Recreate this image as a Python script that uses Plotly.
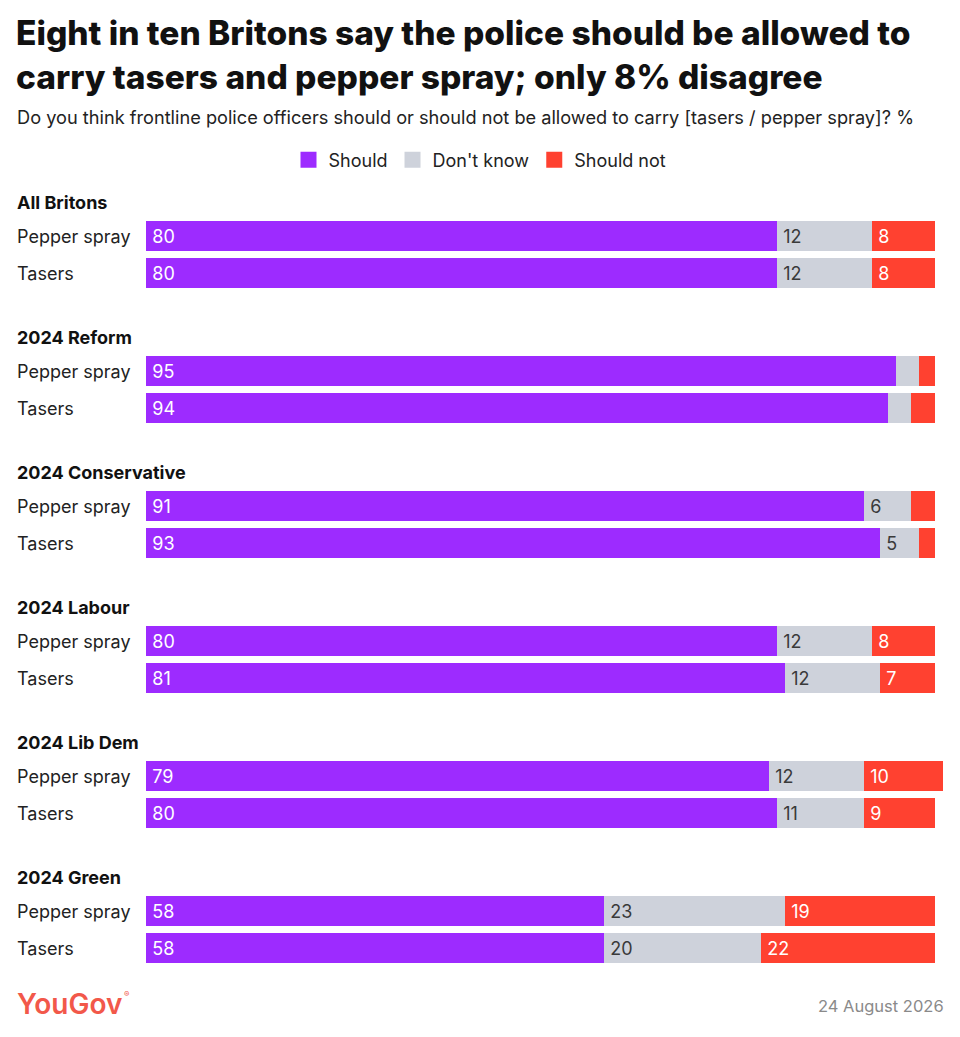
import plotly.graph_objects as go

groups = ["All Britons", "2024 Reform", "2024 Conservative", "2024 Labour", "2024 Lib Dem", "2024 Green"]
rows = ["Pepper spray", "Tasers"]
should = [80, 80, 95, 94, 91, 93, 80, 81, 79, 80, 58, 58]
dont_know = [12, 12, 3, 3, 6, 5, 12, 12, 12, 11, 23, 20]
should_not = [8, 8, 2, 3, 3, 2, 8, 7, 10, 9, 19, 22]

series = [("Should", should, "#9d2bff", "white"),
          ("Don't know", dont_know, "#ced2db", "#3a3a3a"),
          ("Should not", should_not, "#ff4130", "white")]

OFF = 8                      # page body margin
W, H = 960 - 2 * OFF, 1037 - 2 * OFF
# plot area in page pixels
PX_L, PX_T, PX_B = 146, 185, 975
PW = 801
PH = PX_B - PX_T
L = PX_L - OFF
T = PX_T - OFF
R = W - L - PW
B = H - T - PH
XMAX = 100 * PW / 789.0
FONT = "Inter, Roboto, sans-serif"

GROUP_STEP = 135
ROW_STEP = 37
FIRST_ROW = 236
ys = []
for g in range(len(groups)):
    for r in range(len(rows)):
        ys.append(FIRST_ROW + g * GROUP_STEP + r * ROW_STEP)

fig = go.Figure()
for name, vals, color, tcolor in series:
    fig.add_trace(go.Bar(
        name=name, x=vals, y=ys, orientation="h", width=30,
        marker=dict(color=color, line=dict(width=0)),
        text=["\u2009" + str(v) if v >= 5 else "" for v in vals],
        textposition="inside", insidetextanchor="start", textangle=0,
        constraintext="none",
        textfont=dict(family=FONT, size=18, color=tcolor),
        hoverinfo="skip", showlegend=False,
    ))
# legend entries with larger square swatches
for name, vals, color, tcolor in series:
    fig.add_trace(go.Scatter(
        name=name, x=[None], y=[None], mode="markers",
        marker=dict(symbol="square", size=20, color=color),
        showlegend=True, hoverinfo="skip",
    ))

def px_x(px):
    return (px - PX_L) / PW

def px_y(py):
    return (PX_B - py) / PH

annotations = []
for g, gname in enumerate(groups):
    annotations.append(dict(
        x=px_x(15), xref="paper", y=FIRST_ROW + g * GROUP_STEP - 34, yref="y",
        text=gname, showarrow=False, xanchor="left", yanchor="middle",
        font=dict(family=FONT, size=18, color="#111", weight=700)))
    for r, rname in enumerate(rows):
        annotations.append(dict(
            x=px_x(15), xref="paper", y=FIRST_ROW + g * GROUP_STEP + r * ROW_STEP, yref="y",
            text=rname, showarrow=False, xanchor="left", yanchor="middle",
            font=dict(family=FONT, size=18, color="#222")))

annotations += [
    dict(x=px_x(14), xref="paper", y=px_y(11), yref="paper",
         text="Eight in ten Britons say the police should be allowed to<br>carry tasers and pepper spray; only 8% disagree",
         showarrow=False, xanchor="left", yanchor="top", align="left",
         font=dict(family=FONT, size=33.5, color="#111", weight=800)),
    dict(x=px_x(15), xref="paper", y=px_y(117), yref="paper",
         text="Do you think frontline police officers should or should not be allowed to carry [tasers / pepper spray]? %",
         showarrow=False, xanchor="left", yanchor="middle",
         font=dict(family=FONT, size=18.2, color="#222")),
    dict(x=px_x(15), xref="paper", y=px_y(1004), yref="paper",
         text="YouGov", showarrow=False,
         xanchor="left", yanchor="middle",
         font=dict(family=FONT, size=28, color="#f2584a", weight=600)),
    dict(x=px_x(122), xref="paper", y=px_y(994), yref="paper",
         text="®", showarrow=False,
         xanchor="left", yanchor="middle",
         font=dict(family=FONT, size=8, color="#f2584a")),
    dict(x=px_x(946), xref="paper", y=px_y(1006), yref="paper",
         text="24 August 2026", showarrow=False, xanchor="right", yanchor="middle",
         font=dict(family=FONT, size=16.5, color="#8a8a8a")),
]

fig.update_layout(
    width=W, height=H, barmode="stack",
    margin=dict(l=L, r=R, t=T, b=B),
    paper_bgcolor="white", plot_bgcolor="white",
    showlegend=True,
    legend=dict(orientation="h", xref="container", x=0.5, xanchor="center",
                yref="container", y=1 - (160 - OFF) / H, yanchor="middle",
                font=dict(family=FONT, size=18, color="#222"),
                itemclick=False, itemdoubleclick=False, traceorder="normal",
                itemwidth=30, tracegroupgap=0),
    xaxis=dict(range=[0, XMAX], visible=False, fixedrange=True),
    yaxis=dict(range=[PX_B, PX_T], visible=False, fixedrange=True),
    annotations=annotations,
    bargap=0,
)

fig.write_html("out.html")
